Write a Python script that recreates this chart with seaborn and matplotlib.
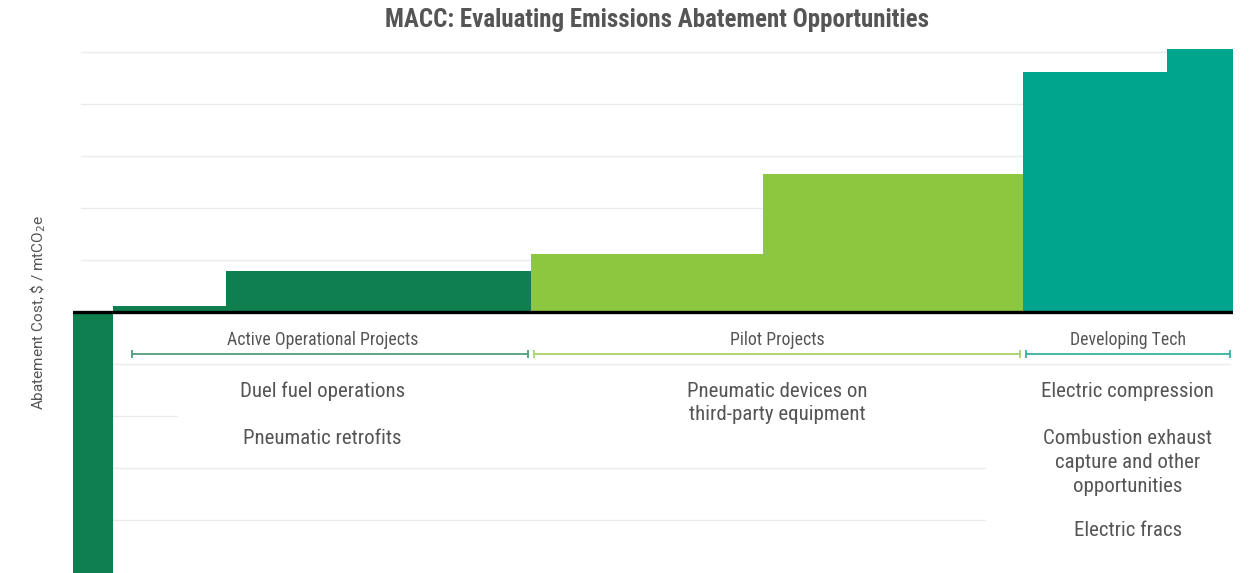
import numpy as np
import matplotlib
matplotlib.use("Agg")
import matplotlib.pyplot as plt
import seaborn as sns

# abatement opportunities, sorted by cost (width = abatement volume, height = cost)
widths = [4.0, 11.3, 30.5, 23.1, 26.0, 14.4, 6.6]
costs = [-5.4, 0.12, 0.79, 1.12, 2.65, 4.62, 5.08]
groups = ["Active", "Active", "Active", "Pilot", "Pilot", "Developing", "Developing"]

group_names = ["Active", "Pilot", "Developing"]
group_titles = ["Active Operational Projects", "Pilot Projects", "Developing Tech"]
group_colors = ["#107F4F", "#8DC63F", "#00A58E"]
bracket_colors = ["#4E9E7C", "#A9D26E", "#35B2A2"]

active_items = ["Duel fuel operations", "Pneumatic retrofits"]
pilot_items = ["Pneumatic devices on\nthird-party equipment"]
developing_items = ["Electric compression",
                    "Combustion exhaust\ncapture and other\nopportunities",
                    "Electric fracs"]

sns.set_theme(style="white")
plt.rcParams["font.family"] = ["Roboto Condensed", "Roboto", "DejaVu Sans"]
TXT = "#555555"

fig = plt.figure(figsize=(12.53, 5.73), dpi=100)
ax = fig.add_axes([73 / 1253, 0, 1160 / 1253, 1 - 49 / 573])

lefts = np.concatenate([[0], np.cumsum(widths)[:-1]])
total = float(np.sum(widths))
color_of = dict(zip(group_names, group_colors))
ax.bar(lefts, costs, width=widths, align="edge",
       color=[color_of[g] for g in groups], linewidth=0, zorder=2)

ax.set_xlim(0, total)
ax.set_ylim(-5.02, 5.06)

# light gridlines (some partly hidden behind label boxes in the original)
grid_spans = {5: (0.007, 0.997), 4: (0.007, 0.997), 3: (0.007, 0.997),
              2: (0.007, 0.997), 1: (0.007, 0.997), -1: (0.034, 0.997),
              -2: (0.034, 0.09), -3: (0.034, 0.786), -4: (0.034, 0.786)}
for lvl, (a, b) in grid_spans.items():
    ax.axhline(lvl, a, b, color="#EBEBEB", lw=1, zorder=0)

ax.axhline(0, color="black", lw=2.4, zorder=3)

# group brackets + titles
for name, title, bc in zip(group_names, group_titles, bracket_colors):
    idx = [i for i, g in enumerate(groups) if g == name]
    x0 = lefts[idx[0]]
    x1 = lefts[idx[-1]] + widths[idx[-1]]
    if name == "Active":
        x0 = lefts[1]
        b0 = lefts[1] + 1.9
    else:
        b0 = x0 + 0.3
    ax.plot([b0, x1 - 0.3], [-0.81, -0.81], color=bc, lw=1.3,
            marker="|", markersize=6, markeredgewidth=1.3, zorder=4)
    ax.text((x0 + x1) / 2, -0.54, title, ha="center", va="center",
            fontsize=12.8, color=TXT)

# project labels in each column
def put_items(items, xc, ys):
    for t, y in zip(items, ys):
        ax.text(xc, y, t, ha="center", va="center", fontsize=15,
                color=TXT, linespacing=1.32)

put_items(active_items, (lefts[1] + lefts[3]) / 2, [-1.52, -2.44])
put_items(pilot_items, (lefts[3] + lefts[5]) / 2, [-1.75])
put_items(developing_items, (lefts[5] + total) / 2, [-1.52, -2.90, -4.21])

ax.set_xticks([])
ax.set_yticks([])
for s in ax.spines.values():
    s.set_visible(False)

fig.text(38 / 1253, 1 - 312 / 573, r"Abatement Cost, \$ / mtCO$_2$e",
         rotation=90, ha="center", va="center", fontsize=11, color=TXT,
         family=["Roboto", "DejaVu Sans"])
fig.text(657 / 1253, 1 - 20 / 573,
         "MACC: Evaluating Emissions Abatement Opportunities",
         ha="center", va="center", fontsize=18, fontweight="bold", color=TXT)

fig.savefig("out.png", dpi=100)
